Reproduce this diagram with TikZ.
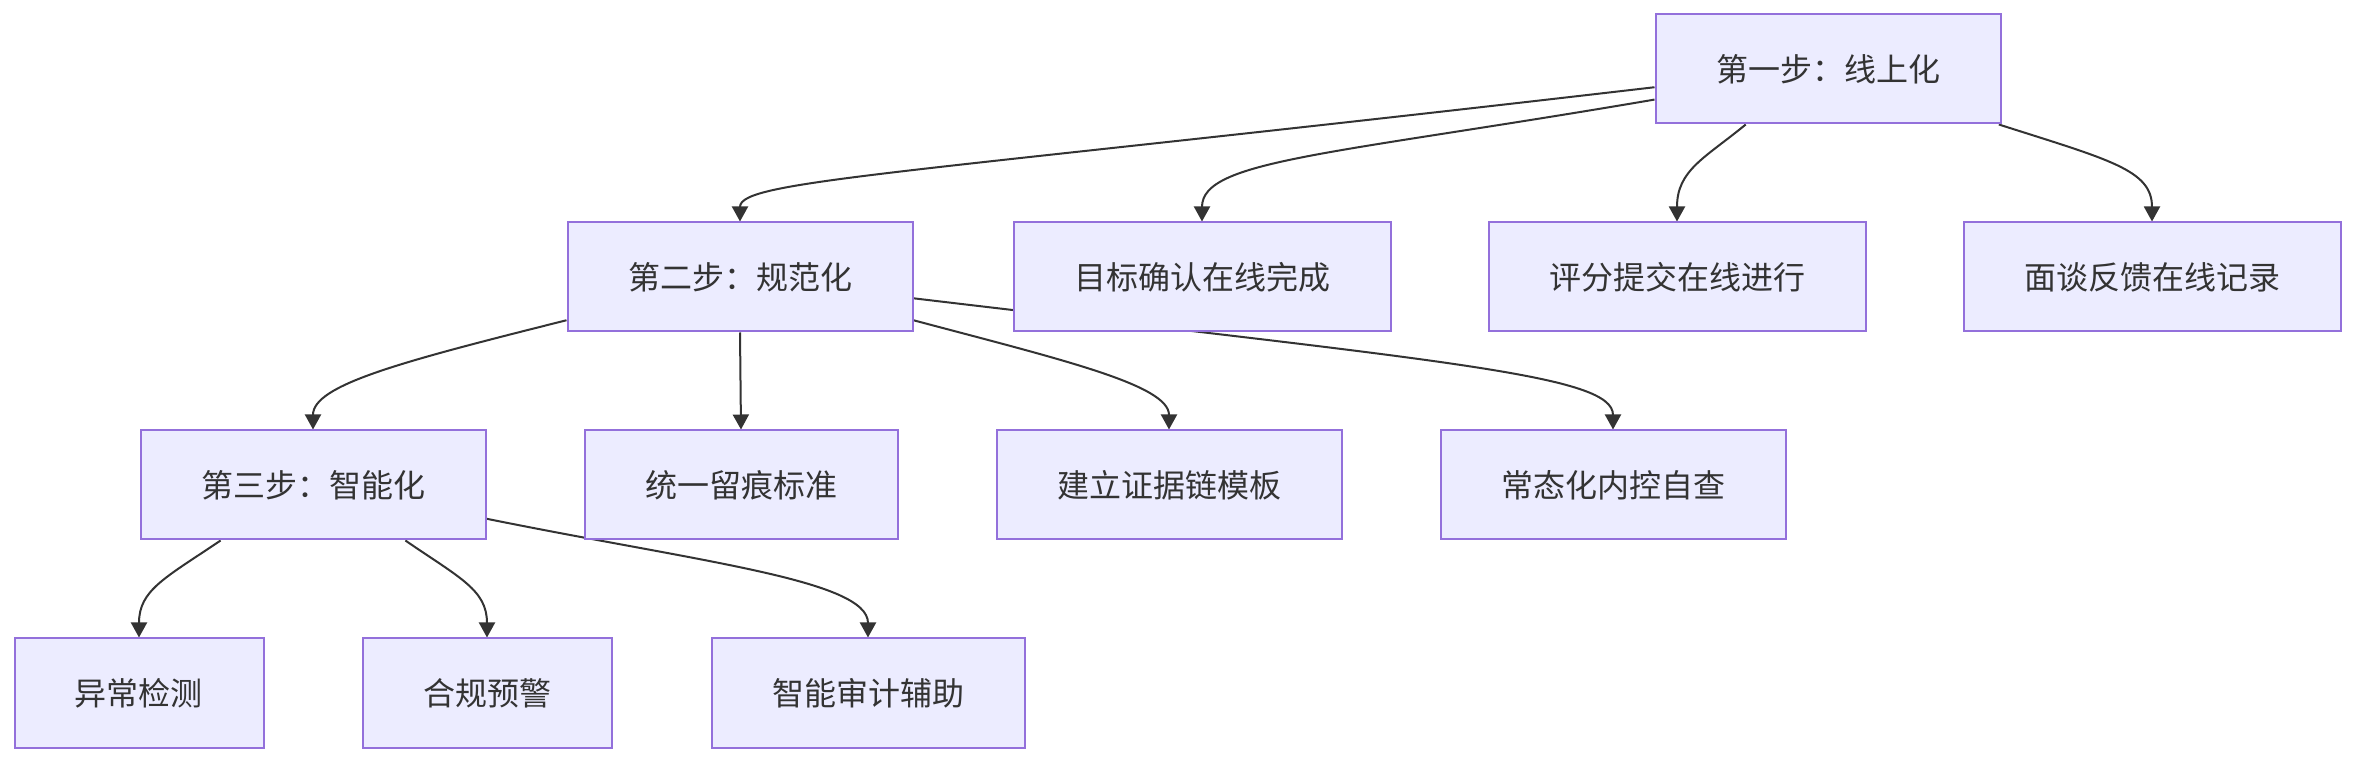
\documentclass[tikz,border=0pt]{standalone}
\usepackage{fontspec}
\setmainfont{Noto Sans CJK SC}
\usepackage{tikz}
\usetikzlibrary{arrows.meta}
\definecolor{boxfill}{HTML}{ECECFF}
\definecolor{boxline}{HTML}{9370DB}
\definecolor{ink}{HTML}{333333}
\pgfdeclarelayer{bg}
\pgfsetlayers{bg,main}
\begin{document}
\begin{tikzpicture}[x=0.5pt,y=-0.5pt,
  stage/.style={draw=boxline,fill=boxfill,line width=1pt,inner xsep=30.25pt,minimum height=54.5pt,text=ink,font=\fontsize{16pt}{19pt}\selectfont},
  link/.style={draw=ink,line width=1pt,-{Triangle[length=7.5pt,width=8pt]}}]
\useasboundingbox (0,0) rectangle (2358,764);
% rows of steps
\node[stage] (s1) at (1828,69) {第一步：线上化};
\node[stage] (s2) at (740,277) {第二步：规范化};
\node[stage] (goal) at (1202,277) {目标确认在线完成};
\node[stage] (score) at (1677,277) {评分提交在线进行};
\node[stage] (talk) at (2152,277) {面谈反馈在线记录};
\node[stage] (s3) at (313,485) {第三步：智能化};
\node[stage] (trace) at (741,485) {统一留痕标准};
\node[stage] (chain) at (1169,485) {建立证据链模板};
\node[stage] (check) at (1613,485) {常态化内控自查};
\node[stage] (anom) at (139,693) {异常检测};
\node[stage] (warn) at (487,693) {合规预警};
\node[stage] (audit) at (868,693) {智能审计辅助};
% connectors behind the boxes
\begin{pgfonlayer}{bg}
\draw[link] (s1.186) .. controls (900,175) and (740,180) .. (s2.north);
\draw[link] (s1.190) .. controls (1330,155) and (1202,160) .. (goal.north);
\draw[link] (s1.214) .. controls (1705,158) and (1677,170) .. (score.north);
\draw[link] (s1.342) .. controls (2110,160) and (2152,170) .. (talk.north);
\draw[link] (s2.194) .. controls (400,362) and (313,385) .. (s3.north);
\draw[link] (s2.south) -- (trace.north);
\draw[link] (s2.346) .. controls (1063,360) and (1169,385) .. (chain.north);
\draw[link] (s2.353) .. controls (1450,362) and (1613,375) .. (check.north);
\draw[link] (s3.211) .. controls (165,578) and (139,590) .. (anom.north);
\draw[link] (s3.329) .. controls (460,578) and (487,590) .. (warn.north);
\draw[link] (s3.349) .. controls (700,562) and (868,580) .. (audit.north);
\end{pgfonlayer}
\end{tikzpicture}
\end{document}
